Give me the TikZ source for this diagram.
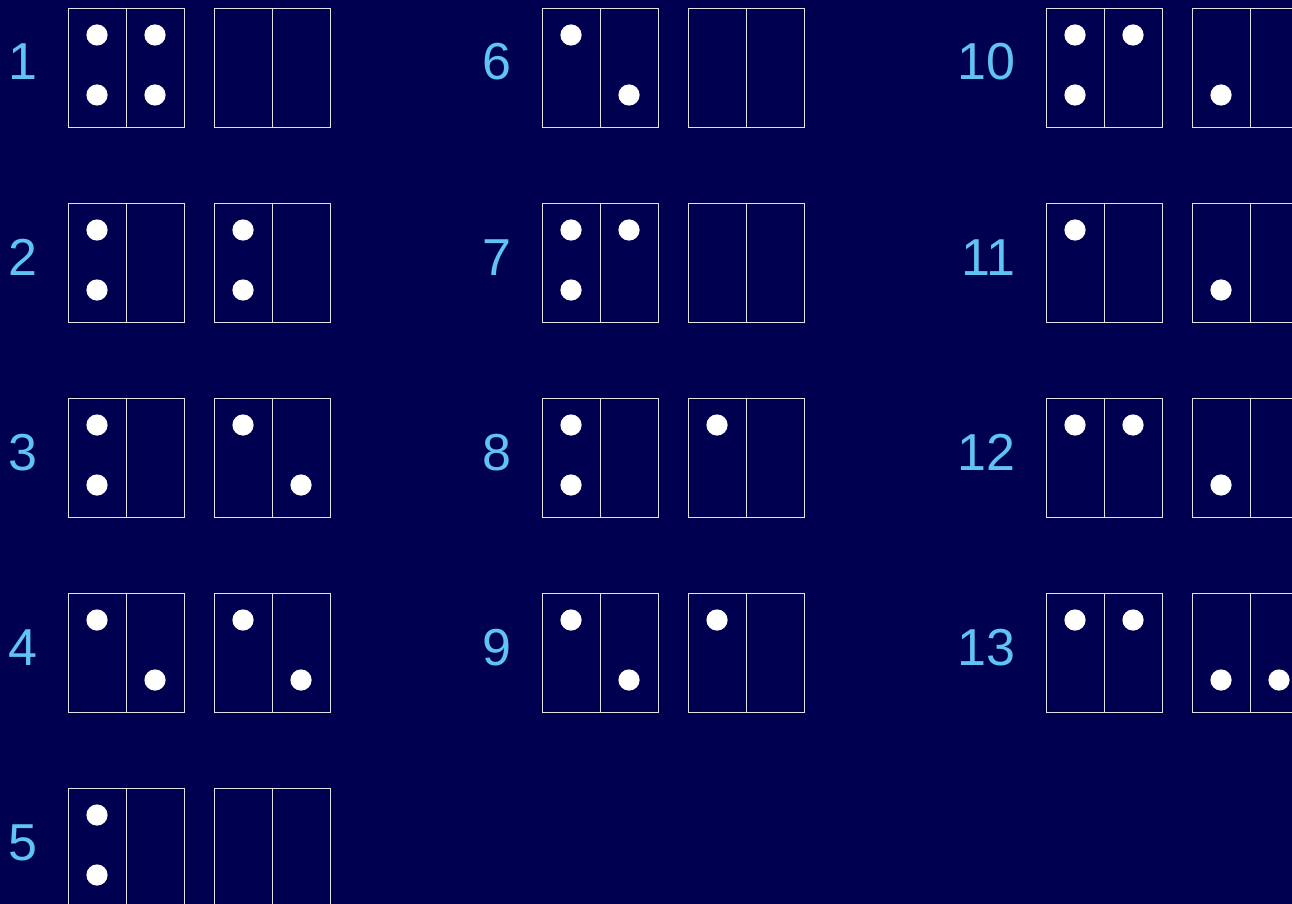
\documentclass[tikz,border=0pt]{standalone}
\usepackage{fontspec}
\setmainfont{Liberation Sans}
\definecolor{bgnavy}{RGB}{0,0,80}
\definecolor{numblue}{RGB}{95,195,245}
\definecolor{linegray}{RGB}{225,225,230}
\tikzset{
  numlabel/.style={text=numblue,font=\fontsize{52}{52}\selectfont,inner sep=0pt,anchor=base east},
  cellline/.style={draw=linegray,line width=1pt},
  dotc/.style={fill=white,draw=none}
}
% box: #1 name, #2 x, #3 y
\newcommand{\cellbox}[3]{%
  \node[cellline,minimum width=116pt,minimum height=119pt,inner sep=0pt,anchor=north west] (#1) at (#2,#3) {};
  \draw[cellline] (#1.north) -- (#1.south);
}
% dot: #1 x, #2 y
\newcommand{\bdot}[2]{\fill[dotc] (#1,#2) circle (10.6);}
% row: #1 name, #2 x, #3 y, #4 label
\newcommand{\brow}[4]{%
  \cellbox{#1a}{#2}{#3}
  \cellbox{#1b}{#2+146}{#3}
  \node[numlabel] (#1n) at (#2-30,#3+72) {#4};
}
\begin{document}
\begin{tikzpicture}[x=1pt,y=-1pt]
\fill[bgnavy] (0,0) rectangle (1292,904);
\useasboundingbox (0,0) rectangle (1292,904);
\clip (0,0) rectangle (1292,904);
% Column 1
\brow{r1}{68}{8}{1}
\bdot{97}{35}\bdot{155}{35}\bdot{97}{95}\bdot{155}{95}
\brow{r2}{68}{203}{2}
\bdot{97}{230}\bdot{97}{290}\bdot{243}{230}\bdot{243}{290}
\brow{r3}{68}{398}{3}
\bdot{97}{425}\bdot{97}{485}\bdot{243}{425}\bdot{301}{485}
\brow{r4}{68}{593}{4}
\bdot{97}{620}\bdot{155}{680}\bdot{243}{620}\bdot{301}{680}
\brow{r5}{68}{788}{5}
\bdot{97}{815}\bdot{97}{875}
% Column 2
\brow{r6}{542}{8}{6}
\bdot{571}{35}\bdot{629}{95}
\brow{r7}{542}{203}{7}
\bdot{571}{230}\bdot{629}{230}\bdot{571}{290}
\brow{r8}{542}{398}{8}
\bdot{571}{425}\bdot{571}{485}\bdot{717}{425}
\brow{r9}{542}{593}{9}
\bdot{571}{620}\bdot{629}{680}\bdot{717}{620}
% Column 3
\brow{r10}{1046}{8}{10}
\bdot{1075}{35}\bdot{1133}{35}\bdot{1075}{95}\bdot{1221}{95}
\brow{r11}{1046}{203}{11}
\bdot{1075}{230}\bdot{1221}{290}
\brow{r12}{1046}{398}{12}
\bdot{1075}{425}\bdot{1133}{425}\bdot{1221}{485}
\brow{r13}{1046}{593}{13}
\bdot{1075}{620}\bdot{1133}{620}\bdot{1221}{680}\bdot{1279}{680}
\end{tikzpicture}
\end{document}
